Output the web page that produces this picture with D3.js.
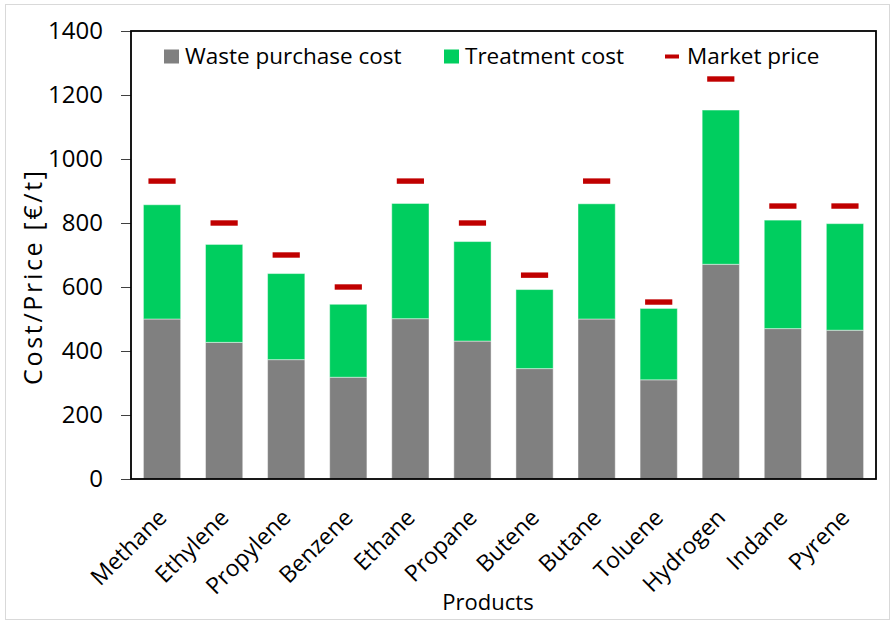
<!DOCTYPE html>
<html>
<head>
<meta charset="utf-8">
<script src="https://cdn.jsdelivr.net/npm/d3@7"></script>
<style>
  html, body { margin: 0; padding: 0; background: #fff; }
  svg { display: block; font-family: "Open Sans", "Noto Sans", sans-serif; }
</style>
</head>
<body>
<svg id="chart" width="892" height="621"></svg>
<script>
// Product categories and cost components [€/t]
const products = ["Methane", "Ethylene", "Propylene", "Benzene", "Ethane", "Propane",
                  "Butene", "Butane", "Toluene", "Hydrogen", "Indane", "Pyrene"];
const wastePurchaseCost = [500, 427, 373, 318, 501, 431, 345, 500, 310, 671, 470, 465];
const treatmentCost     = [357, 306, 269, 228, 360, 311, 247, 360, 223, 482, 339, 333];
const marketPrice       = [931, 800, 700, 600, 931, 800, 637, 931, 553, 1250, 853, 853];
const yTicks = [0, 200, 400, 600, 800, 1000, 1200, 1400];

const seriesNames = ["Waste purchase cost", "Treatment cost", "Market price"];
const colors = { waste: "#808080", treat: "#00CE5F", price: "#C00000" };

const svg = d3.select("#chart");
const W = 892, H = 621;
const plot = { left: 131, top: 31, right: 876, bottom: 479 };

// outer chart border
svg.append("rect")
  .attr("x", 5.5).attr("y", 4.5)
  .attr("width", W - 8).attr("height", H - 6)
  .attr("fill", "none").attr("stroke", "#d9d9d9").attr("stroke-width", 1);

const x = d3.scaleBand().domain(products)
  .range([plot.left, plot.right]).paddingInner(0.4).paddingOuter(0.2);
const y = d3.scaleLinear().domain([0, 1400]).range([plot.bottom, plot.top]);

const rows = products.map((p, i) => ({
  product: p,
  waste: wastePurchaseCost[i],
  treat: treatmentCost[i],
  price: marketPrice[i]
}));
const stacked = d3.stack().keys(["waste", "treat"])(rows);

// stacked bars
svg.append("g").selectAll("g")
  .data(stacked).join("g")
  .attr("fill", d => colors[d.key])
  .selectAll("rect")
  .data(d => d).join("rect")
  .attr("x", d => x(d.data.product))
  .attr("y", d => y(d[1]))
  .attr("width", x.bandwidth())
  .attr("height", d => y(d[0]) - y(d[1]))
  .attr("stroke", "#ffffff").attr("stroke-opacity", 0.45).attr("stroke-width", 1);

// market price markers
const dashW = x.bandwidth() * 0.73;
svg.append("g").selectAll("rect")
  .data(rows).join("rect")
  .attr("x", d => x(d.product) + x.bandwidth() / 2 - dashW / 2)
  .attr("y", d => y(d.price) - 2.7)
  .attr("width", dashW).attr("height", 5.4)
  .attr("fill", colors.price);

// y axis
const yAxis = svg.append("g")
  .attr("transform", `translate(${plot.left},0)`)
  .call(d3.axisLeft(y).tickValues(yTicks).tickSize(10).tickPadding(18).tickFormat(d3.format("d")));
yAxis.select(".domain").remove();
yAxis.selectAll(".tick line").attr("stroke", "#404040");
yAxis.selectAll(".tick text")
  .attr("font-size", 24).attr("fill", "#000").attr("font-family", "Open Sans, sans-serif");

// plot frame
svg.append("rect")
  .attr("x", plot.left).attr("y", plot.top)
  .attr("width", plot.right - plot.left).attr("height", plot.bottom - plot.top)
  .attr("fill", "none").attr("stroke", "#000").attr("stroke-width", 1.8);

// x axis labels, rotated
const xAxis = svg.append("g")
  .attr("transform", `translate(0,${plot.bottom})`)
  .call(d3.axisBottom(x).tickSize(0).tickPadding(0));
xAxis.select(".domain").remove();
xAxis.selectAll(".tick text")
  .attr("font-size", 23).attr("fill", "#000")
  .attr("font-family", "Open Sans, sans-serif")
  .attr("text-anchor", "end")
  .attr("dy", 0)
  .attr("transform", "translate(6,40) rotate(-45)");

// axis titles
svg.append("text")
  .attr("x", 488).attr("y", 610)
  .attr("text-anchor", "middle").attr("font-size", 22).attr("fill", "#000")
  .text("Products");
svg.append("text")
  .attr("transform", "translate(42,278) rotate(-90)")
  .attr("text-anchor", "middle").attr("font-size", 25).attr("fill", "#000")
  .attr("textLength", 214).attr("lengthAdjust", "spacing")
  .text("Cost/Price [€/t]");

// legend
const legend = svg.append("g").attr("font-size", 22.5).attr("fill", "#000");
const legendItems = [
  { name: seriesNames[0], kind: "box", color: colors.waste, x: 164 },
  { name: seriesNames[1], kind: "box", color: colors.treat, x: 444 },
  { name: seriesNames[2], kind: "line", color: colors.price, x: 665 }
];
legendItems.forEach(it => {
  if (it.kind === "box") {
    legend.append("rect").attr("x", it.x).attr("y", 49.5)
      .attr("width", 15).attr("height", 14).attr("fill", it.color);
  } else {
    legend.append("rect").attr("x", it.x).attr("y", 54.5)
      .attr("width", 14).attr("height", 4).attr("fill", it.color);
  }
  legend.append("text")
    .attr("x", it.x + (it.kind === "box" ? 21 : 22)).attr("y", 64)
    .text(it.name);
});
</script>
</body>
</html>
